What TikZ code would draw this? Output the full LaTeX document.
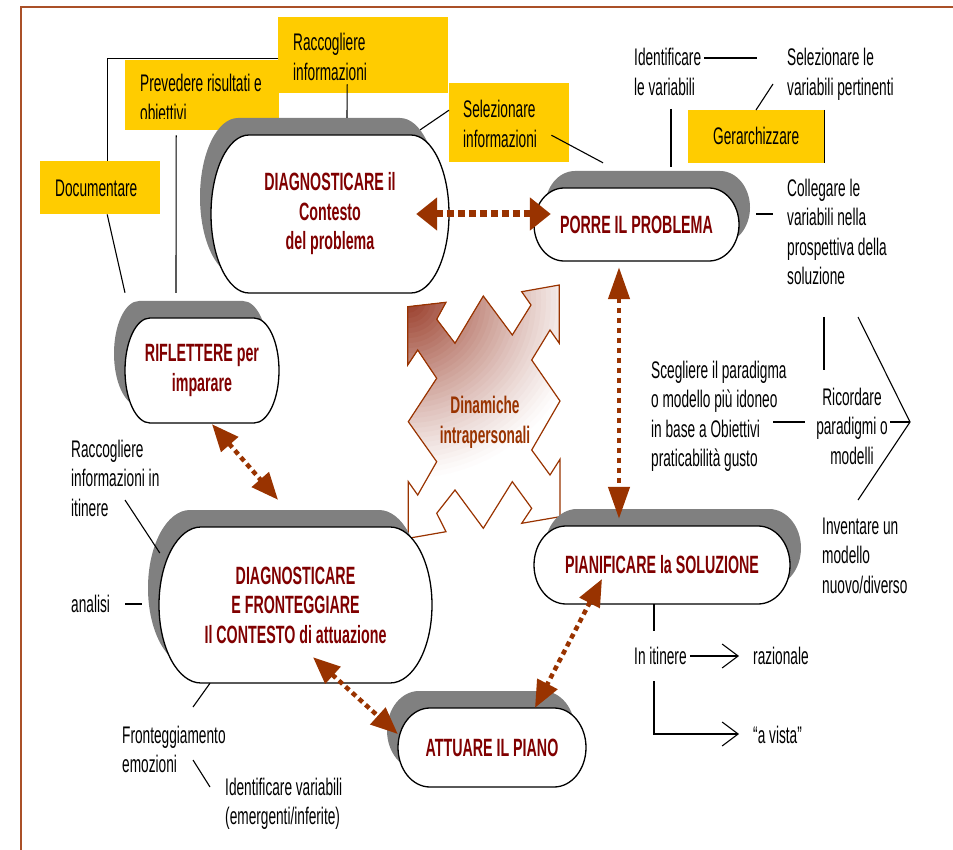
\documentclass[tikz,border=0pt]{standalone}
\usepackage{fontspec}
\setmainfont{Liberation Sans}[FakeStretch=0.57]
\usetikzlibrary{arrows.meta,calc}
\definecolor{framec}{RGB}{170,80,40}
\definecolor{yellowc}{RGB}{255,204,0}
\definecolor{shadowgray}{RGB}{128,128,128}
\definecolor{nodered}{RGB}{128,0,0}
\definecolor{arrowc}{RGB}{153,51,0}
\definecolor{starc}{RGB}{150,55,35}
\tikzset{
  ybox/.style={fill=yellowc, inner sep=0, anchor=north west},
  txt/.style={anchor=base west, inner sep=0, align=left, font=\fontsize{24}{29.5}\selectfont},
  blobtext/.style={inner sep=0, align=center, text=nodered, font=\fontsize{25}{29.5}\selectfont\bfseries},
  ln/.style={line width=1.1pt, black},
  openarr/.style={ln, arrows={-Straight Barb[length=16pt,width=24pt]}},
  harrow/.style={draw=arrowc, line width=7pt, dash pattern=on 7pt off 4pt,
     arrows={Triangle[length=21pt,width=32pt]-Triangle[length=21pt,width=32pt]}},
  varrow/.style={draw=arrowc, line width=4.5pt, dash pattern=on 5pt off 5pt,
     arrows={Triangle[length=32pt,width=21pt]-Triangle[length=32pt,width=21pt]}},
  darrow/.style={draw=arrowc, line width=4.5pt, dash pattern=on 5pt off 4pt,
     arrows={Triangle[length=27pt,width=22pt]-Triangle[length=27pt,width=22pt]}},
}
% name, cx, cy, half width, half height, end radius, shadow dx, text
\newcommand{\blob}[8]{%
  \pgfmathsetmacro\bL{#2-#4}%
  \pgfmathsetmacro\bR{#2+#4}%
  \pgfmathsetmacro\bT{#3-#5}%
  \pgfmathsetmacro\bB{#3+#5}%
  \pgfmathsetmacro\bxl{#2-#4+#6}%
  \pgfmathsetmacro\bxr{#2+#4-#6}%
  \pgfmathsetmacro\bxlk{#2-#4+#6-0.5523*#6}%
  \pgfmathsetmacro\bxrk{#2+#4-#6+0.5523*#6}%
  \pgfmathsetmacro\bytk{#3-0.5523*#5}%
  \pgfmathsetmacro\bybk{#3+0.5523*#5}%
  \fill[shadowgray, shift={(#7,-17)}] (\bxl,\bT) -- (\bxr,\bT)
     .. controls (\bxrk,\bT) and (\bR,\bytk) .. (\bR,#3)
     .. controls (\bR,\bybk) and (\bxrk,\bB) .. (\bxr,\bB) -- (\bxl,\bB)
     .. controls (\bxlk,\bB) and (\bL,\bybk) .. (\bL,#3)
     .. controls (\bL,\bytk) and (\bxlk,\bT) .. (\bxl,\bT) -- cycle;
  \draw[fill=white, line width=1.3pt] (\bxl,\bT) -- (\bxr,\bT)
     .. controls (\bxrk,\bT) and (\bR,\bytk) .. (\bR,#3)
     .. controls (\bR,\bybk) and (\bxrk,\bB) .. (\bxr,\bB) -- (\bxl,\bB)
     .. controls (\bxlk,\bB) and (\bL,\bybk) .. (\bL,#3)
     .. controls (\bL,\bytk) and (\bxlk,\bT) .. (\bxl,\bT) -- cycle;
  \node[blobtext, minimum width={2*#4}, minimum height={2*#5}] (#1) at (#2,#3) {#8};
}
\begin{document}
\begin{tikzpicture}[x=1pt, y=-1pt]
\useasboundingbox (0,0) rectangle (953,850);
% frame
\draw[framec, line width=2pt] (21,852) -- (21,7) -- (955,7);

% yellow boxes
\node[ybox, minimum width=154, minimum height=70] (prev) at (125,60) {};
\node[ybox, minimum width=170, minimum height=76] (racc) at (278,17) {};
\node[ybox, minimum width=120, minimum height=53] (docu) at (40,161) {};
\node[ybox, minimum width=120, minimum height=79] (sel) at (449,83) {};
\node[ybox, minimum width=136, minimum height=53] (gerar) at (688,110) {};
\node[txt] (racct) at (293,80.5) {Raccogliere\\informazioni};
\begin{scope}
  \clip (125,60) rectangle (279,119);
  \node[txt] (prevt) at (140,121.5) {Prevedere risultati e\\obiettivi};
\end{scope}
\node[txt] (docut) at (55,197) {Documentare};
\node[txt] (selt) at (463,147.5) {Selezionare\\informazioni};
\node[txt] (gerart) at (713,145) {Gerarchizzare};

% star of arrows
\draw[draw=arrowc, line width=1.2pt, fill=white,
  path picture={
    \foreach \i in {1,...,36} {
      \pgfmathsetmacro\rr{183-5*\i}
      \pgfmathsetmacro\pc{100*(1-\rr/183)^1.2}
      \fill[starc!\pc!white] (408,300) circle (\rr);
    }
  }]
  (407.7,306.7) -- (446,302.3) -- (436.7,319.3) -- (455,343.3) -- (483.3,296)
  -- (512.3,335) -- (531,305) -- (521.7,291.7) -- (559.3,285) -- (559.3,343.3)
  -- (550,330) -- (531.7,360) -- (560,401) -- (531.7,450) -- (550,475)
  -- (560,459.3) -- (560,516.7) -- (521.7,523.3) -- (531.7,508.3) -- (512.3,481.7)
  -- (483.3,528.3) -- (455,490) -- (436.7,513.3) -- (446,531.7) -- (408.3,538.3)
  -- (408.3,481.7) -- (417.7,495) -- (436.7,461.7) -- (408.3,421.7) -- (436.7,378.3)
  -- (417.7,350) -- (407.7,365) -- cycle;
\node[font=\fontsize{24}{30}\selectfont\bfseries, text=arrowc, align=center, inner sep=0] (dyn) at (485,422) {Dinamiche\\intrapersonali};

% main rounded nodes
\blob{diag1}{330}{214}{119}{79}{38}{-11}{DIAGNOSTICARE il\\Contesto\\del problema}
\blob{porre}{636.5}{224.5}{102.5}{36.5}{30}{11}{PORRE IL PROBLEMA}
\blob{rifl}{202}{370.5}{77}{52.5}{25}{-11}{RIFLETTERE per\\imparare}
\blob{diag2}{295.5}{605}{136.5}{78}{42}{-11}{DIAGNOSTICARE\\E FRONTEGGIARE\\Il CONTESTO di attuazione}
\blob{pian}{662}{565}{128}{39}{32}{11}{PIANIFICARE la SOLUZIONE}
\blob{attu}{492}{747.5}{94}{39.5}{32}{-11}{ATTUARE IL PIANO}

% plain texts (base anchor = baseline of last line)
\node[txt] (ident) at (634,95.5) {Identificare\\le variabili};
\node[txt] (selvar) at (787,95.5) {Selezionare le\\variabili pertinenti};
\node[txt] (coll) at (787,284.5) {Collegare le\\variabili nella\\prospettiva della\\soluzione};
\node[txt] (sceg) at (651,466.5) {Scegliere il paradigma\\o modello più idoneo\\in base a Obiettivi\\praticabilità gusto};
\node[txt, anchor=base, align=center] (ricord) at (852,464) {Ricordare\\paradigmi o\\modelli};
\node[txt] (invent) at (822,593) {Inventare un\\modello\\nuovo/diverso};
\node[txt] (initin) at (634,664) {In itinere};
\node[txt] (raz) at (753,664) {razionale};
\node[txt] (avista) at (753,743) {“a vista”};
\node[txt] (raccit) at (71,516) {Raccogliere\\informazioni in\\itinere};
\node[txt] (analisi) at (71,612) {analisi};
\node[txt] (fronte) at (122,772.5) {Fronteggiamento\\emozioni};
\node[txt] (identvar) at (225,824.5) {Identificare variabili\\(emergenti/inferite)};

% dotted double arrows
\draw[harrow] ($(diag1.east)+(-33,0)$) -- ($(porre.west)+(17,-10.5)$);
\draw[varrow] ($(porre.south)+(-17.5,6)$) -- ($(pian.north)+(-43,-7)$);
\draw[darrow] ($(rifl.south)+(10,1)$) -- ($(diag2.north)+(-17.5,-27)$);
\draw[darrow] ($(diag2.south)+(17.5,-26)$) -- ($(attu.west)+(0,-13.5)$);
\draw[darrow] ($(pian.center)+(-60,14)$) -- ($(attu.north)+(43,0)$);

% thin connectors
\draw[ln] ($(racc.west)+(0,3)$) -| ($(docu.north)+(7,0)$);
\draw[ln] ($(docu.south)+(7,0)$) -- ($(rifl.north)+(-77,-25)$);
\draw[ln] ($(prev.south)+(-26,5)$) -- ($(rifl.north)+(-26,-25)$);
\draw[ln] ($(racc.south)+(-16,-9)$) -- ($(diag1.north)+(17,-17)$);
\draw[ln] ($(sel.west)+(0,-12.5)$) -- ($(diag1.north east)+(-29,-5)$);
\draw[ln] ($(sel.east)+(-18,12.5)$) -- ($(porre.north)+(-33.5,-25)$);
\draw[ln] ($(ident.base west)+(70,-37.5)$) -- ($(selvar.base west)+(-30,-37.5)$);
\draw[ln] ($(ident.base west)+(37,13.5)$) -- ($(porre.north)+(34.5,-21)$);
\draw[ln] ($(selvar.base west)+(-14,-11.5)$) -- ($(gerar.north west)+(68,0)$);
\draw[ln] (gerar.north east) -- (gerar.south east);
\draw[ln] ($(porre.east)+(17,-10.5)$) -- ($(coll.base west)+(-14,-70.5)$);
\draw[ln] ($(coll.base west)+(37,32.5)$) -- ($(ricord.base)+(-28,-94)$);
\draw[ln] ($(ricord.base)+(6,-147)$) -- ($(ricord.base)+(58,-42)$) -- ($(ricord.base)+(6,36)$);
\draw[ln] ($(sceg.base west)+(122,-44.5)$) -- ($(ricord.base)+(-47,-42)$);
\draw[ln] ($(ricord.base)+(38,-42)$) -- ($(ricord.base)+(58,-42)$);
\draw[ln] ($(pian.south)+(-8,0)$) -- ($(initin.base west)+(20,-33)$);
\draw[openarr] ($(initin.base west)+(56,-8)$) -- ($(raz.base west)+(-14,-8)$);
\draw[openarr] ($(initin.base west)+(20,17)$) |- ($(avista.base west)+(-14,-9)$);
\draw[ln] ($(raccit.base west)+(54,-16)$) -- ($(diag2.west)+(1,-52)$);
\draw[ln] ($(analisi.base west)+(54,-8)$) -- ($(diag2.west)+(-17,-1)$);
\draw[ln] ($(diag2.south)+(-85.5,0)$) -- ($(fronte.base west)+(71,-65.5)$);
\draw[ln] ($(fronte.base west)+(71,-12.5)$) -- ($(identvar.base west)+(-15,-37.5)$);
\end{tikzpicture}
\end{document}
